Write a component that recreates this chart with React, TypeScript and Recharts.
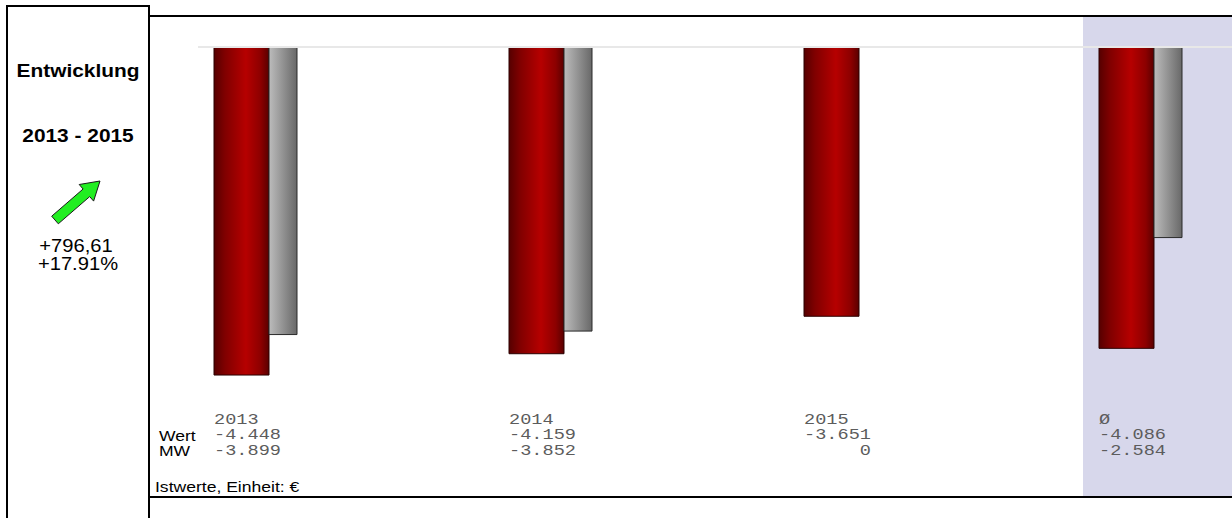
import React from "react";
import {
  BarChart,
  Bar,
  XAxis,
  YAxis,
  ReferenceArea,
  ReferenceLine,
} from "recharts";

// Categories and values (Euro, German number format in the labels)
const YEARS = ["2013", "2014", "2015", "Ø"];
const WERT = [-4448, -4159, -3651, -4086];
const MW = [-3899, -3852, 0, -2584];

// Summary shown in the left panel
const TITLE = "Entwicklung";
const PERIOD = "2013 - 2015";
const CHANGE_ABS = "+796,61";
const CHANGE_PCT = "+17.91%";
const UNIT_NOTE = "Istwerte, Einheit: €";

const data = YEARS.map((year, i) => ({ year, wert: WERT[i], mw: MW[i] }));

const MONO = "'Liberation Mono', 'Courier New', monospace";
const SANS = "'Liberation Sans', Arial, sans-serif";
const STRETCH = 1.16; // the reference is drawn slightly wide

// German thousands separator: -4448 -> "-4.448"
const fmt = (v: number) => {
  const s = Math.abs(v)
    .toString()
    .replace(/\B(?=(\d{3})+(?!\d))/g, ".");
  return v < 0 ? "-" + s : s;
};

const YearTick = (props: any) => {
  const { x, y, payload } = props;
  const i = YEARS.indexOf(payload.value);
  const left = x - 131.5; // band centre -> left edge of the red bar
  return (
    <g
      transform={`translate(${left},${y}) scale(1.24,1)`}
      fontFamily={MONO}
      fontSize={15}
      fill="#5c5c5c"
    >
      <text x={0} y={23}>
        {YEARS[i]}
      </text>
      <text x={54} y={38.5} textAnchor="end">
        {fmt(WERT[i])}
      </text>
      <text x={54} y={54} textAnchor="end">
        {fmt(MW[i])}
      </text>
    </g>
  );
};

const App: React.FC = () => {
  return (
    <div
      style={{
        position: "absolute",
        left: 0,
        top: 0,
        width: 1232,
        height: 518,
        overflow: "hidden",
        background: "#fff",
      }}
    >
      <div style={{ position: "absolute", left: 150, top: 17 }}>
        <BarChart
          width={1228}
          height={479}
          data={data}
          margin={{ top: 30, right: 0, left: 48, bottom: 0 }}
          barGap={0}
        >
          <defs>
            <linearGradient id="redGrad" x1="0" y1="0" x2="1" y2="0">
              <stop offset="0%" stopColor="#560000" />
              <stop offset="20%" stopColor="#800000" />
              <stop offset="58%" stopColor="#b60000" />
              <stop offset="85%" stopColor="#8c0000" />
              <stop offset="100%" stopColor="#5a0000" />
            </linearGradient>
            <linearGradient id="greyGrad" x1="0" y1="0" x2="1" y2="0">
              <stop offset="0%" stopColor="#bcbcbc" />
              <stop offset="100%" stopColor="#686868" />
            </linearGradient>
          </defs>
          <ReferenceArea
            x1="Ø"
            x2="Ø"
            y1={500}
            y2={-6300}
            ifOverflow="visible"
            fill="#d7d7eb"
            fillOpacity={1}
            stroke="none"
          />
          <XAxis
            dataKey="year"
            height={95}
            axisLine={false}
            tickLine={false}
            tickSize={0}
            tickMargin={0}
            interval={0}
            tick={<YearTick />}
          />
          <YAxis hide domain={[-4800, 0]} />
          <ReferenceLine y={0} stroke="#e8e8e8" strokeWidth={2} />
          <Bar
            dataKey="wert"
            barSize={55}
            fill="url(#redGrad)"
            stroke="#2a0000"
            strokeWidth={1}
            isAnimationActive={false}
          />
          <Bar
            dataKey="mw"
            barSize={28}
            fill="url(#greyGrad)"
            stroke="#2a2a2a"
            strokeWidth={1}
            isAnimationActive={false}
          />
          {/* empty series that only reserves room, so bars sit at the left of each band */}
          <Bar dataKey="spacer" barSize={180} fill="none" isAnimationActive={false} />
        </BarChart>
      </div>

      <svg
        width={1232}
        height={518}
        style={{ position: "absolute", left: 0, top: 0, pointerEvents: "none" }}
        fontFamily={SANS}
      >
        <rect x={7} y={6} width={142} height={600} fill="none" stroke="#000" strokeWidth={2} />
        <line x1={149} y1={16} x2={1232} y2={16} stroke="#000" strokeWidth={2} />
        <line x1={149} y1={497} x2={1232} y2={497} stroke="#000" strokeWidth={2} />

        <text
          transform={`translate(78,77) scale(${STRETCH},1)`}
          textAnchor="middle"
          fontSize={18}
          fontWeight="bold"
        >
          {TITLE}
        </text>
        <text
          transform={`translate(78,142) scale(${STRETCH},1)`}
          textAnchor="middle"
          fontSize={18}
          fontWeight="bold"
        >
          {PERIOD}
        </text>

        <polygon
          points="100,181 79.2,184.5 83.1,189 51.7,216.2 58.3,223.8 89.7,196.6 93.6,201.1"
          fill="#22ee22"
          stroke="#1a1a1a"
          strokeWidth={1}
          strokeLinejoin="round"
        />

        <text transform="translate(76,252) scale(1.12,1)" textAnchor="middle" fontSize={18}>
          {CHANGE_ABS}
        </text>
        <text transform="translate(78,270) scale(1.12,1)" textAnchor="middle" fontSize={18}>
          {CHANGE_PCT}
        </text>

        <text transform="translate(159,441) scale(1.17,1)" fontSize={15}>
          Wert
        </text>
        <text transform="translate(159,456) scale(1.17,1)" fontSize={15}>
          MW
        </text>
        <text transform="translate(155,492) scale(1.17,1)" fontSize={15}>
          {UNIT_NOTE}
        </text>
      </svg>
    </div>
  );
};

export default App;
